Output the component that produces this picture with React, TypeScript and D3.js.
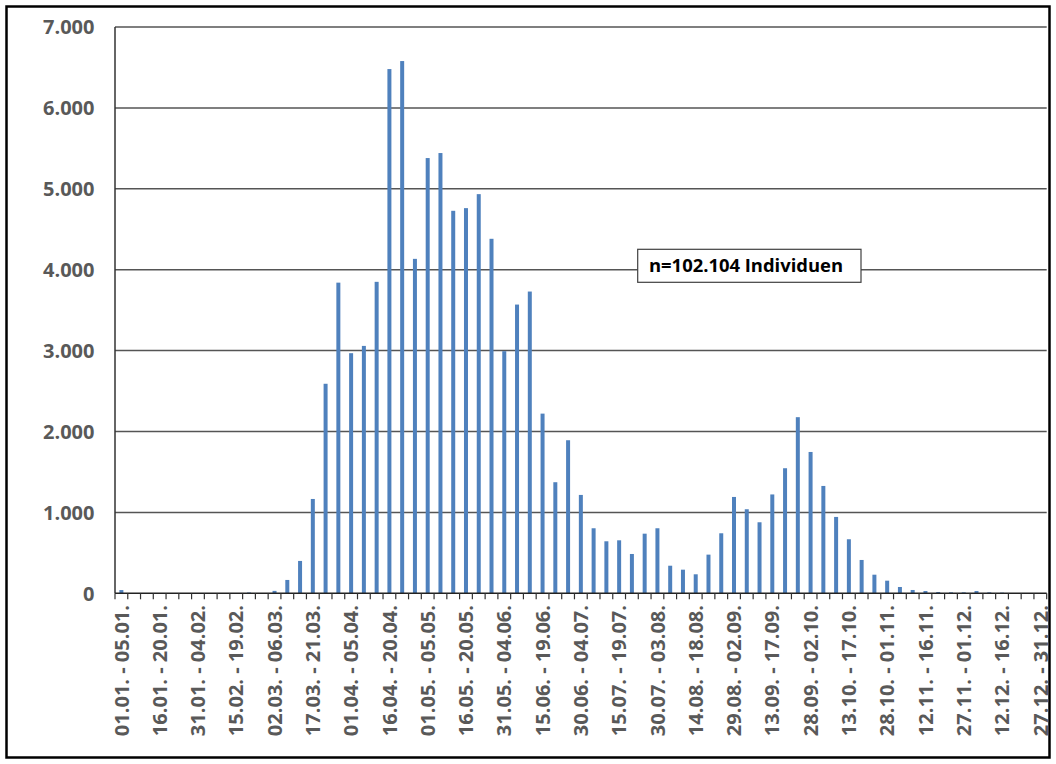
import React from "react";
import * as d3 from "d3";

// Pentad categories (5-day periods, non-leap year)
const pentadStarts: Date[] = d3.range(73).map((i) => new Date(2023, 0, 1 + i * 5));
const fmt = d3.timeFormat("%d.%m.");
const categories: string[] = pentadStarts.map((d, i) => {
  const end = i === 72 ? new Date(2023, 11, 31) : new Date(2023, 0, 1 + i * 5 + 4);
  return `${fmt(d)} - ${fmt(end)}`;
});

const values: number[] = [
  40, 0, 0, 0, 0, 0, 0, 0, 0, 0,
  10, 0, 30, 165, 400, 1166, 2590, 3840, 2968, 3058,
  3850, 6480, 6579, 4134, 5380, 5442, 4728, 4761, 4934, 4382,
  2993, 3569, 3730, 2221, 1373, 1892, 1216, 804, 643, 655,
  486, 737, 804, 341, 292, 235, 478, 742, 1191, 1039,
  878, 1222, 1546, 2177, 1747, 1327, 944, 668, 412, 230,
  156, 78, 41, 28, 16, 12, 12, 28, 12, 8,
  0, 0, 0,
];

const yTicks: number[] = [0, 1000, 2000, 3000, 4000, 5000, 6000, 7000];
const annotation = "n=102.104 Individuen";

const W = 1056;
const H = 764;
const left = 115;
const right = 1046.7;
const top = 27;
const bottom = 593.3;

const fmtY = (v: number) => (v === 0 ? "0" : d3.format(",")(v).replace(/,/g, "."));

export default function App() {
  const pad = 0.687;
  const x = d3
    .scaleBand<string>()
    .domain(categories)
    .range([left, right])
    .paddingInner(pad)
    .paddingOuter(pad / 2);
  const xb = d3.scaleLinear().domain([0, categories.length]).range([left, right]);
  const y = d3.scaleLinear().domain([0, 7000]).range([bottom, top]);
  const font = "'Open Sans', 'DejaVu Sans', sans-serif";
  const grey = "#595959";

  return (
    <svg
      width={W}
      height={H}
      style={{ position: "absolute", left: 0, top: 0, background: "#fff" }}
    >
      <rect x={0} y={0} width={W} height={H} fill="#fff" />
      <rect x={6.5} y={6.5} width={1043} height={751} fill="none" stroke="#000" strokeWidth={2.5} />

      {/* gridlines */}
      {yTicks
        .filter((t) => t > 0)
        .map((t) => (
          <line
            key={t}
            x1={left}
            x2={right}
            y1={y(t)}
            y2={y(t)}
            stroke="#555"
            strokeWidth={1.5}
          />
        ))}

      {/* bars */}
      {values.map((v, i) => (
        <rect
          key={i}
          x={x(categories[i])!}
          y={y(v)}
          width={x.bandwidth()}
          height={bottom - y(v)}
          fill="#4f81bd"
        />
      ))}

      {/* axes */}
      <line x1={left} x2={left} y1={top} y2={bottom} stroke="#333" strokeWidth={1.5} />
      <line x1={left} x2={right} y1={bottom} y2={bottom} stroke="#222" strokeWidth={1.5} />
      {d3.range(categories.length + 1).map((i) => (
        <line
          key={i}
          x1={xb(i)}
          x2={xb(i)}
          y1={bottom}
          y2={bottom + 6}
          stroke="#333"
          strokeWidth={1.2}
        />
      ))}

      {/* y labels */}
      {yTicks.map((t) => (
        <text
          key={t}
          x={94.5}
          y={y(t)}
          dy="0.36em"
          textAnchor="end"
          fontFamily={font}
          fontWeight="bold"
          fontSize={20}
          fill={grey}
        >
          {fmtY(t)}
        </text>
      ))}

      {/* x labels */}
      {categories.map((c, i) =>
        i % 3 === 0 ? (
          <text
            key={c}
            transform={`translate(${x(c)! + x.bandwidth() / 2},${605}) rotate(-90)`}
            dy="0.36em"
            textAnchor="end"
            fontFamily={font}
            fontWeight="bold"
            fontSize={20}
            fill={grey}
          >
            {c}
          </text>
        ) : null
      )}

      {/* annotation */}
      <rect x={637.7} y={249.3} width={223.3} height={33} fill="#fff" stroke="#404040" strokeWidth={1.2} />
      <text
        x={649}
        y={266}
        dy="0.36em"
        fontFamily={font}
        fontWeight="bold"
        fontSize={18}
        fill="#000"
        textLength={194}
        lengthAdjust="spacingAndGlyphs"
      >
        {annotation}
      </text>
    </svg>
  );
}
